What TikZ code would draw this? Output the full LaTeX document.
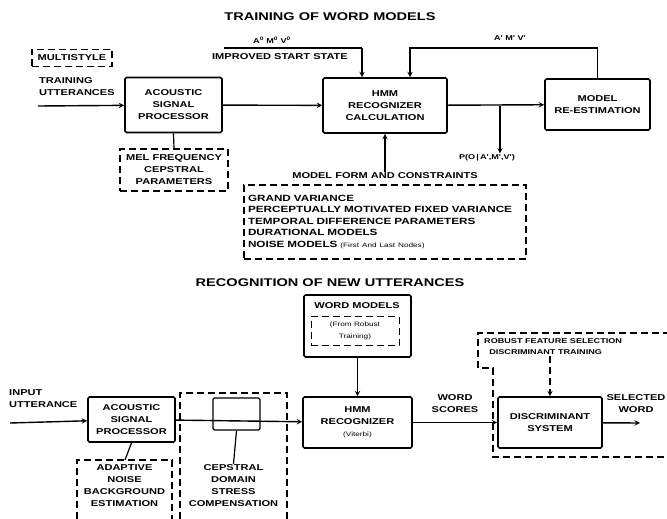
\documentclass[tikz,border=0pt]{standalone}
\usepackage{fontspec}
\usepackage{tikz}
\usetikzlibrary{arrows,shapes}
\newfontfamily\figfont[FakeStretch=1.3]{Liberation Sans}
\newcommand{\sml}{\fontsize{6.3}{8}\selectfont\mdseries}
\tikzstyle{lbl} = [font=\figfont\bfseries\fontsize{8.5}{12}\selectfont, align=center, inner sep=1pt]
\tikzstyle{ttl} = [font=\figfont\bfseries\fontsize{11.2}{13}\selectfont]
\tikzstyle{blk} = [lbl, draw, line width=1.6pt, rounded corners=1.5pt]
\tikzstyle{dbox} = [lbl, draw, line width=1.3pt, dash pattern=on 7pt off 4pt]
\tikzstyle{dline} = [line width=1.3pt, dash pattern=on 7pt off 4pt]
\tikzstyle{arrow} = [line width=1.4pt,->,>=stealth]

\begin{document}
\begin{tikzpicture}[x=1pt,y=-1pt]
\useasboundingbox (0,0) rectangle (667,519);
% training of word models
\draw (330,17) node (ttlA) [ttl] {TRAINING OF WORD MODELS};
\draw (272,40) node (azero) [lbl] {\fontsize{7}{7}\selectfont A\textsuperscript{0} M\textsuperscript{0} V\textsuperscript{0}};
\draw (280,57) node (iss) [lbl] {IMPROVED START STATE};
\draw (72,58) node (multi) [dbox, minimum width=80, minimum height=17] {MULTISTYLE};
\draw (38,87) node (trn) [lbl, anchor=west, align=left] {TRAINING\\UTTERANCES};
\draw (173.5,105) node (aspA) [blk, minimum width=97, minimum height=55] {ACOUSTIC\\SIGNAL\\PROCESSOR};
\draw (174,170) node (mel) [dbox, minimum width=108, minimum height=42] {MEL FREQUENCY\\CEPSTRAL\\PARAMETERS};
\draw (385,105.5) node (hmmA) [blk, minimum width=124, minimum height=55] {HMM\\RECOGNIZER\\CALCULATION};
\draw (597.5,104.5) node (model) [blk, minimum width=105, minimum height=51] {MODEL\\RE-ESTIMATION};
\draw (510,38) node (aone) [lbl] {\fontsize{7}{7}\selectfont A' M' V'};
\draw (487,158) node (prob) [lbl] {\fontsize{7}{7}\selectfont P(O\,|\,A',M',V')};
\draw (385,176) node (mft) [lbl] {MODEL FORM AND CONSTRAINTS};
\draw (385,222) node (mf) [dbox, align=left, text width=274, inner sep=4, minimum height=74,
  font=\figfont\bfseries\fontsize{9}{11.5}\selectfont] {GRAND VARIANCE\\PERCEPTUALLY MOTIVATED FIXED VARIANCE\\TEMPORAL DIFFERENCE PARAMETERS\\DURATIONAL MODELS\\NOISE MODELS {\sml(First And Last Nodes)}};
\coordinate (trIn) at (38,106);
\coordinate (issL) at (224,48);
\coordinate (issR) at (362,48);
\coordinate (fb) at (410,48);
\coordinate (tap) at (500,106);
%
\draw [arrow] (trIn) -- (aspA);
\draw [line width=1.2pt] (aspA.south) -- (mel.north);
\draw [arrow] (aspA) -- (hmmA);
\draw [arrow] (hmmA) -- (model);
\draw [line width=1.4pt] (issL) -- (issR);
\draw [arrow] (issR) -- (issR |- hmmA.north);
\draw [arrow] (model.north) |- (fb) -- (fb |- hmmA.north);
\draw [arrow] (tap) -- (tap |- prob.north);
\draw [arrow] (mft.north) -- (hmmA.south);
% recognition of new utterances
\draw (330,283) node (ttlB) [ttl] {RECOGNITION OF NEW UTTERANCES};
\draw (357.5,326) node (wm) [blk, minimum width=107, minimum height=62] {};
\draw (357,306) node (wmt) [lbl] {WORD MODELS};
\draw (355,331) node (wmr) [dbox, line width=1pt, minimum width=88, minimum height=29] {\sml(From Robust\\\sml Training)};
\draw (357.5,422.5) node (hmmB) [blk, minimum width=109, minimum height=51] {HMM\\RECOGNIZER\\{\sml(Viterbi)}};
\draw (8,399) node (inp) [lbl, anchor=west, align=left] {INPUT\\UTTERANCE};
\draw (131.5,419.5) node (aspB) [blk, minimum width=87, minimum height=45] {ACOUSTIC\\SIGNAL\\PROCESSOR};
\draw (124.5,486) node (anb) [lbl] {ADAPTIVE\\NOISE\\BACKGROUND\\ESTIMATION};
\draw [dline] (77,519) |- (172,460) -- (172,519);
\draw (236.5,414) node (csi) [blk, line width=1.2pt, minimum width=47, minimum height=32] {};
\draw (233.5,486) node (csc) [lbl] {CEPSTRAL\\DOMAIN\\STRESS\\COMPENSATION};
\draw [dline] (180,519) |- (287,393) -- (287,519);
\draw (550,422.5) node (disc) [blk, minimum width=104, minimum height=51] {DISCRIMINANT\\SYSTEM};
\draw (455,404) node (ws) [lbl] {WORD\\SCORES};
\draw (636,404) node (sel) [lbl] {SELECTED\\WORD};
\draw (483,347) node (rob) [lbl, anchor=west, align=left, font=\figfont\bfseries\fontsize{7}{11}\selectfont] {ROBUST FEATURE SELECTION\\\ \ DISCRIMINANT TRAINING};
\draw [dline] (670,333) -- (478,333) -- (478,368) -- (493,368) -- (493,457) -- (670,457);
\coordinate (inB) at (10,423);
\coordinate (anbT) at (125,460);
\coordinate (outB) at (640,423);
%
\draw [arrow] (inB) -- (aspB);
\draw [line width=1.2pt] (aspB.south) -- (anbT);
\draw [line width=1.2pt] (csi.south) -- (csc.north);
\draw [arrow] (aspB) -- (hmmB);
\draw [arrow] (wm) -- (hmmB);
\draw [arrow] (hmmB) -- (disc);
\draw [arrow] (disc) -- (outB);
\draw [arrow, dline] (rob.south -| disc.north) -- (disc.north);
\end{tikzpicture}
\end{document}
